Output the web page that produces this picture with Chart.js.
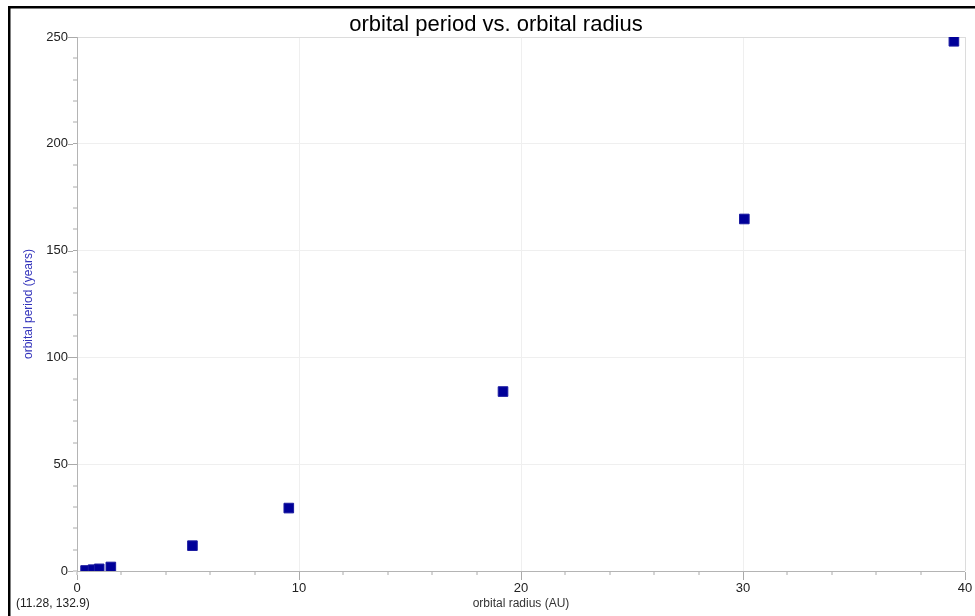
<!DOCTYPE html>
<html>
<head>
<meta charset="utf-8">
<script src="https://cdn.jsdelivr.net/npm/chart.js@4/dist/chart.umd.min.js"></script>
<style>
  html, body { margin: 0; padding: 0; background: #fff; }
  #wrap { position: relative; width: 975px; height: 616px; }
</style>
</head>
<body>
<div id="wrap"><canvas id="chart" width="975" height="616"></canvas></div>
<script>
// planets: orbital radius (AU) and orbital period (years)
const planets = ['Mercury', 'Venus', 'Earth', 'Mars', 'Jupiter', 'Saturn', 'Uranus', 'Neptune', 'Pluto'];
const radiusAU = [0.387, 0.723, 1.0, 1.524, 5.2, 9.54, 19.19, 30.06, 39.5];
const periodYears = [0.241, 0.615, 1.0, 1.881, 11.86, 29.46, 84.01, 164.8, 248.0];

const xRange = [0, 40];
const yRange = [0, 250];
const xMajor = 10, xMinor = 2;
const yMajor = 50, yMinor = 10;

const titleText = 'orbital period vs. orbital radius';
const readoutText = '(11.28, 132.9)';

const points = radiusAU.map((x, i) => ({ x, y: periodYears[i] }));

const isMajor = (v, step) => Math.abs(v / step - Math.round(v / step)) < 1e-6;

// frame, title, coordinate readout and longer major ticks
const decorPlugin = {
    id: 'decor',
    afterDraw(chart) {
        const ctx = chart.ctx;
        const xs = chart.scales.x, ys = chart.scales.y;
        ctx.save();
        ctx.fillStyle = '#000';
        ctx.fillRect(8, 6, 2.5, 620);
        ctx.fillRect(8, 6, 980, 2.5);

        ctx.fillStyle = '#000';
        ctx.font = '22px Arial, "Liberation Sans", sans-serif';
        ctx.textAlign = 'center';
        ctx.textBaseline = 'middle';
        ctx.fillText(titleText, 496, 25);

        ctx.fillStyle = '#222';
        ctx.font = '12px Arial, "Liberation Sans", sans-serif';
        ctx.textAlign = 'left';
        ctx.fillText(readoutText, 16, 604);

        // extend major tick marks
        ctx.strokeStyle = '#aaa';
        ctx.lineWidth = 1;
        ctx.beginPath();
        for (let v = yRange[0]; v <= yRange[1]; v += yMajor) {
            const py = Math.round(ys.getPixelForValue(v)) + 0.5;
            ctx.moveTo(xs.left - 9, py);
            ctx.lineTo(xs.left - 4, py);
        }
        for (let v = xRange[0]; v <= xRange[1]; v += xMajor) {
            const px = Math.round(xs.getPixelForValue(v)) + 0.5;
            ctx.moveTo(px, ys.bottom + 4);
            ctx.lineTo(px, ys.bottom + 9);
        }
        ctx.stroke();
        ctx.restore();
    }
};

const tickFont = { size: 13, family: 'Arial, "Liberation Sans", sans-serif' };

new Chart(document.getElementById('chart').getContext('2d'), {
    type: 'scatter',
    data: {
        datasets: [{
            label: 'orbital period',
            data: points,
            pointStyle: 'rect',
            pointRadius: 6.8,
            pointHoverRadius: 6.8,
            backgroundColor: '#000099',
            borderColor: '#1a1aa0',
            borderWidth: 1,
        }]
    },
    options: {
        responsive: false,
        animation: false,
        layout: { padding: { top: 37, right: 10, left: 0, bottom: 0 } },
        plugins: {
            legend: { display: false },
            title: { display: false },
            tooltip: { enabled: false }
        },
        scales: {
            x: {
                type: 'linear',
                min: xRange[0],
                max: xRange[1],
                afterFit: s => { s.height = 45; s.paddingLeft = 0; s.paddingRight = 0; },
                ticks: {
                    stepSize: xMinor,
                    autoSkip: false,
                    maxRotation: 0,
                    padding: 6,
                    color: '#222',
                    font: tickFont,
                    callback: v => isMajor(v, xMajor) ? v : ''
                },
                grid: {
                    color: ctx => (ctx.tick && ctx.tick.value === xRange[1]) ? '#dcdcdc' : '#efefef',
                    lineWidth: ctx => (ctx.tick && isMajor(ctx.tick.value, xMajor) && ctx.tick.value !== xRange[0]) ? 1 : 0,
                    drawTicks: true,
                    tickLength: 4,
                    tickColor: '#aaa',
                    tickWidth: 1
                },
                border: { display: true, color: '#b4b4b4', width: 1 },
                title: {
                    display: true,
                    text: 'orbital radius (AU)',
                    color: '#333',
                    font: { size: 12, family: 'Arial, "Liberation Sans", sans-serif' },
                    padding: { top: 0, bottom: 5 }
                }
            },
            y: {
                type: 'linear',
                min: yRange[0],
                max: yRange[1],
                afterFit: s => { s.width = 77; s.paddingTop = 0; s.paddingBottom = 0; },
                ticks: {
                    stepSize: yMinor,
                    autoSkip: false,
                    padding: 5,
                    color: '#222',
                    font: tickFont,
                    callback: v => isMajor(v, yMajor) ? v : ''
                },
                grid: {
                    color: ctx => (ctx.tick && ctx.tick.value === yRange[1]) ? '#dcdcdc' : '#efefef',
                    lineWidth: ctx => (ctx.tick && isMajor(ctx.tick.value, yMajor) && ctx.tick.value !== yRange[0]) ? 1 : 0,
                    drawTicks: true,
                    tickLength: 4,
                    tickColor: '#aaa',
                    tickWidth: 1
                },
                border: { display: true, color: '#b4b4b4', width: 1 },
                title: {
                    display: true,
                    text: 'orbital period (years)',
                    color: '#3333bb',
                    font: { size: 12, family: 'Arial, "Liberation Sans", sans-serif' },
                    padding: { top: 21, bottom: 0 }
                }
            }
        }
    },
    plugins: [decorPlugin]
});
</script>
</body>
</html>
